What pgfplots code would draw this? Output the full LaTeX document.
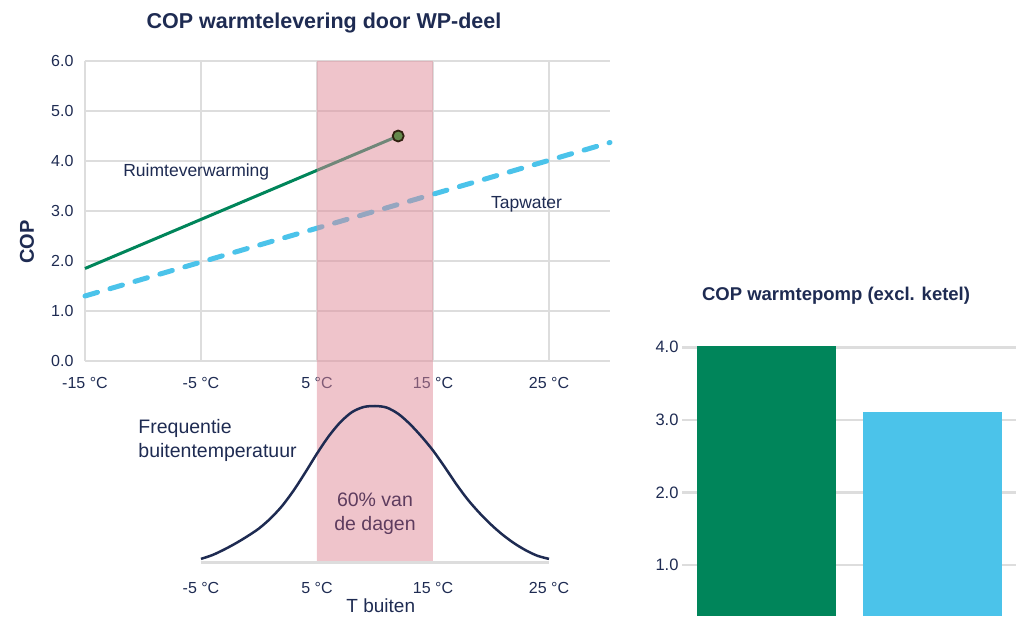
\documentclass[border=0pt]{standalone}
\usepackage{fontspec}
\setmainfont{Liberation Sans}
\usepackage{pgfplots}
\pgfplotsset{compat=1.18}
\definecolor{navy}{HTML}{1E2B52}
\definecolor{wpgreen}{HTML}{00855A}
\definecolor{wpblue}{HTML}{4BC3EA}
\definecolor{gridgray}{HTML}{DDDDDD}
\definecolor{bandpink}{HTML}{E08A98}
\definecolor{markergreen}{HTML}{64894C}
\definecolor{bandtext}{HTML}{5E3C5E}
\newcommand{\tickfont}{\fontsize{16}{18}\selectfont}
\newcommand{\annfont}{\fontsize{17.5}{21}\selectfont}
\newcommand{\bigannfont}{\fontsize{19.5}{24}\selectfont}
\begin{document}
\begin{tikzpicture}
\useasboundingbox (0,0) rectangle (1023pt,627pt);
% ---------------- top chart ----------------
\begin{axis}[
  at={(85pt,266pt)}, anchor=south west,
  width=525pt, height=300pt, scale only axis,
  xmin=-15, xmax=30.26, ymin=0, ymax=6,
  axis line style={draw=none},
  tick style={draw=none},
  xtick={-15,-5,5,15,25},
  xticklabels={-15 °C,-5 °C,5 °C,15 °C,25 °C},
  ytick={0,1,2,3,4,5,6},
  yticklabel={\pgfmathprintnumber[fixed,fixed zerofill,precision=1,assume math mode=true]{\tick}},
  grid=major,
  major grid style={gridgray, line width=2.5pt},
  ticklabel style={font=\tickfont, text=navy},
  xticklabel style={yshift=-13pt},
  yticklabel style={xshift=-8pt},
  clip=false,
]
\addplot[wpgreen, line width=3pt] coordinates {(-15,1.85) (12,4.5)};
\addplot[wpblue, line width=5pt, line cap=round, dash pattern=on 13pt off 13pt] coordinates {(-15,1.3) (30.26,4.37)};
% band 5-15 degC (over both charts)
\addplot[fill=bandpink, fill opacity=0.5, draw=none] coordinates {(5,-4.02) (15,-4.02) (15,6) (5,6) (5,-4.02)};
\addplot[only marks, mark=*, mark size=5.5pt, mark options={fill=markergreen, draw=black!75!brown, line width=1.8pt}] coordinates {(12,4.5)};
\node[anchor=west, font=\annfont, text=navy] at (axis cs:-12.0,3.78) {Ruimteverwarming};
\node[anchor=west, font=\annfont, text=navy] at (axis cs:19.7,3.14) {Tapwater};
\node[rotate=90, font=\bfseries\fontsize{20}{22}\selectfont, text=navy] at (axis cs:-20,2.38) {COP};
\node[font=\bfseries\fontsize{21.5}{24}\selectfont, text=navy] at (axis cs:5.6,6.76) {COP warmtelevering door WP-deel};
\end{axis}
% ---------------- bell curve ----------------
\begin{axis}[
  at={(85pt,65pt)}, anchor=south west,
  width=525pt, height=156pt, scale only axis,
  xmin=-15, xmax=30.26, ymin=0, ymax=1,
  axis line style={draw=none},
  tick style={draw=none},
  ytick=\empty,
  xtick={-5,5,15,25},
  xticklabels={-5 °C,5 °C,15 °C,25 °C},
  ticklabel style={font=\tickfont, text=navy},
  xticklabel style={yshift=-17pt},
  clip=false,
]
\addplot[gridgray, line width=3pt] coordinates {(-5,0) (25,0)};
\addplot[navy, line width=2.5pt, smooth] coordinates {
(-5,0.02) (-4,0.045) (-3,0.08) (-2,0.12) (-1,0.165) (0,0.215) (1,0.28) (2,0.36)
(3,0.46) (4,0.575) (5,0.695) (6,0.805) (7,0.895) (8,0.96) (9,0.993) (10,1.0)
(11,0.99) (12,0.95) (13,0.885) (14,0.805) (15,0.715) (16,0.61) (17,0.5) (18,0.4)
(19,0.315) (20,0.24) (21,0.175) (22,0.12) (23,0.075) (24,0.04) (25,0.02)};
\node[anchor=west, align=left, font=\bigannfont, text=navy] at (axis cs:-10.7,0.78) {Frequentie\\buitentemperatuur};
\node[align=center, font=\bigannfont, text=bandtext] at (axis cs:10,0.31) {60\% van\\de dagen};
\node[font=\fontsize{19}{21}\selectfont, text=navy] at (axis cs:10.5,-0.28) {T buiten};
\end{axis}
% ---------------- bar chart ----------------
\begin{axis}[
  at={(682pt,11pt)}, anchor=south west,
  width=334pt, height=276pt, scale only axis,
  xmin=-0.509, xmax=1.503, ymin=0.3, ymax=4.1,
  axis line style={draw=none},
  tick style={draw=none},
  xtick=\empty,
  ytick={1,2,3,4},
  yticklabel={\pgfmathprintnumber[fixed,fixed zerofill,precision=1,assume math mode=true]{\tick}},
  ymajorgrids,
  major grid style={gridgray, line width=2.5pt},
  ticklabel style={font=\fontsize{16.5}{18}\selectfont, text=navy},
  ybar, bar width=139pt, bar shift=0pt,
  clip mode=individual,
]
\addplot[fill=wpgreen, draw=none] coordinates {(0,4.02)};
\addplot[fill=wpblue, draw=none] coordinates {(1,3.11)};
\node[font=\bfseries\fontsize{18.5}{20}\selectfont, text=navy] at (axis cs:0.419,4.716) {COP warmtepomp (excl. ketel)};
\end{axis}
\end{tikzpicture}
\end{document}
